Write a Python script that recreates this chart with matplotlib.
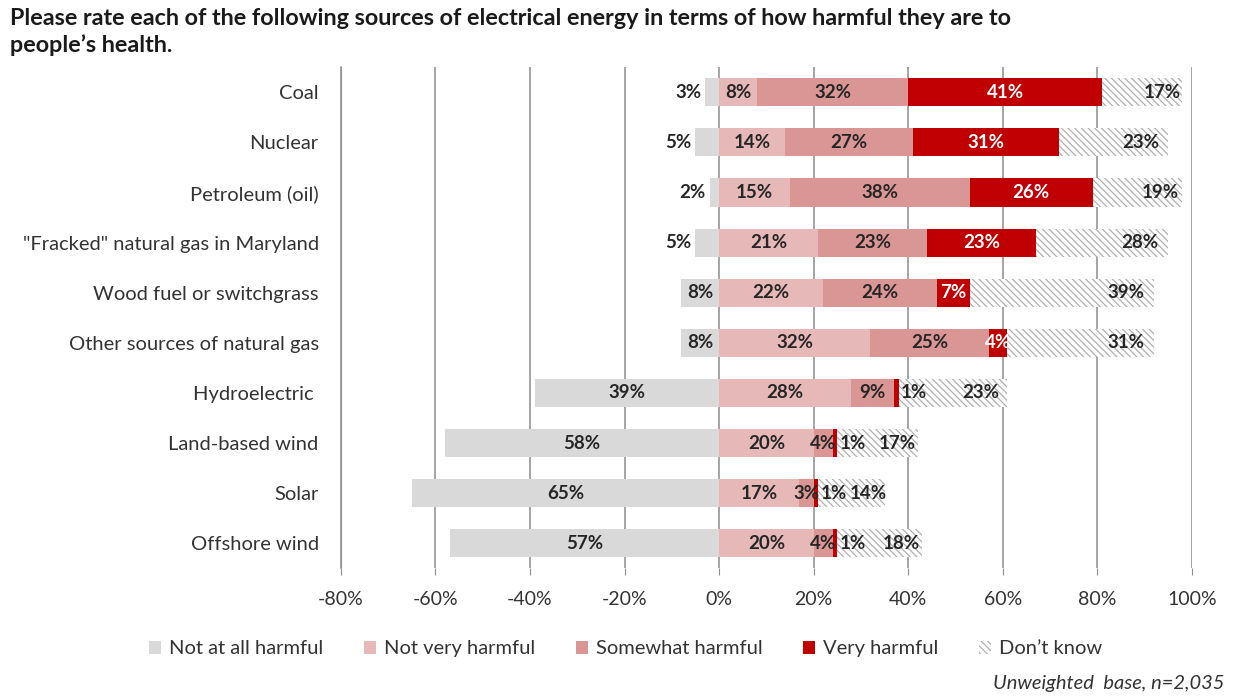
import matplotlib.pyplot as plt
import numpy as np
from matplotlib.ticker import FuncFormatter

plt.rcParams['font.family'] = ['Lato', 'DejaVu Sans']
plt.rcParams['hatch.linewidth'] = 0.9

sources = ['Coal', 'Nuclear', 'Petroleum (oil)', '"Fracked" natural gas in Maryland',
           'Wood fuel or switchgrass', 'Other sources of natural gas', 'Hydroelectric ',
           'Land-based wind', 'Solar', 'Offshore wind']
not_at_all = [3, 5, 2, 5, 8, 8, 39, 58, 65, 57]
not_very = [8, 14, 15, 21, 22, 32, 28, 20, 17, 20]
somewhat = [32, 27, 38, 23, 24, 25, 9, 4, 3, 4]
very = [41, 31, 26, 23, 7, 4, 1, 1, 1, 1]
dont_know = [17, 23, 19, 28, 39, 31, 23, 17, 14, 18]

text_dark = '#262626'
grid_col = '#8c8c8c'
lbl_size = 13.5

fig = plt.figure(figsize=(12.34, 7.0), dpi=100)
ax = fig.add_axes([0.2763, 0.188, 0.6895, 0.716])

y = np.arange(len(sources))
h = 0.56

# negative side: not at all harmful
ax.barh(y, -np.array(not_at_all), height=h, color='#d9d9d9', lw=0,
        label='Not at all harmful', zorder=2)
for yi, v in zip(y, not_at_all):
    if v < 6:
        ax.text(-v - 0.8, yi, f'{v}%', ha='right', va='center',
                fontsize=lbl_size, fontweight='bold', color=text_dark)
    else:
        ax.text(-v / 2, yi, f'{v}%', ha='center', va='center',
                fontsize=lbl_size, fontweight='bold', color=text_dark)

# positive side, stacked
series = [
    ('Not very harmful', not_very, dict(color='#e6b8b7')),
    ('Somewhat harmful', somewhat, dict(color='#da9694')),
    ('Very harmful', very, dict(color='#c00000')),
    ("Don\u2019t know", dont_know, dict(facecolor='white', edgecolor='#b0b0b0', hatch='\\\\\\\\\\')),
]
left = np.zeros(len(sources))
for name, vals, style in series:
    vals = np.array(vals, dtype=float)
    ax.barh(y, vals, left=left, height=h, lw=0, label=name, zorder=2, **style)
    for yi, l, v in zip(y, left, vals):
        end = l + v
        if name == 'Very harmful':
            if v <= 1:
                ax.text(end + 0.5, yi, f'{v:.0f}%', ha='left', va='center',
                        fontsize=lbl_size, fontweight='bold', color=text_dark, zorder=4)
            else:
                ax.text(l + v / 2, yi, f'{v:.0f}%', ha='center', va='center',
                        fontsize=lbl_size, fontweight='bold', color='white', zorder=4)
        elif name == "Don\u2019t know":
            ax.text(end - min(6, 0.25 * v), yi, f'{v:.0f}%', ha='center', va='center',
                    fontsize=lbl_size, fontweight='bold', color=text_dark, zorder=4)
        else:
            ax.text(l + v / 2, yi, f'{v:.0f}%', ha='center', va='center',
                    fontsize=lbl_size, fontweight='bold', color=text_dark, zorder=4)
    left += vals

ax.set_xlim(-80, 100)
ax.set_ylim(len(sources) - 0.5, -0.5)
ax.set_xticks(np.arange(-80, 101, 20))
ax.xaxis.set_major_formatter(FuncFormatter(lambda v, p: f'{int(v)}%'))
ax.set_yticks(y)
ax.set_yticklabels(sources)
ax.grid(axis='x', color=grid_col, lw=1.1, zorder=0)
for s in ['top', 'right', 'bottom']:
    ax.spines[s].set_visible(False)
ax.spines['left'].set_color(grid_col)
ax.spines['left'].set_linewidth(1.1)
ax.tick_params(axis='x', length=5, color=grid_col, pad=11, labelsize=14, labelcolor='#333333')
ax.tick_params(axis='y', length=0, pad=16, labelsize=14.5, labelcolor='#333333')

fig.text(0.008, 0.988,
         'Please rate each of the following sources of electrical energy in terms of how harmful they are to\n'
         'people\u2019s health.',
         ha='left', va='top', fontsize=16.8, fontweight='bold', color='#1a1a1a', linespacing=1.3)

fig.legend(loc='center', bbox_to_anchor=(0.507, 0.073), ncol=5, frameon=False,
           fontsize=14.5, handlelength=0.6, handleheight=0.6, handletextpad=0.4,
           columnspacing=2.0, labelcolor='#333333')

fig.text(0.992, 0.012, 'Unweighted  base, n=2,035', ha='right', va='bottom',
         fontsize=14.5, style='italic', color='#333333')

fig.savefig('out.png', dpi=100)
